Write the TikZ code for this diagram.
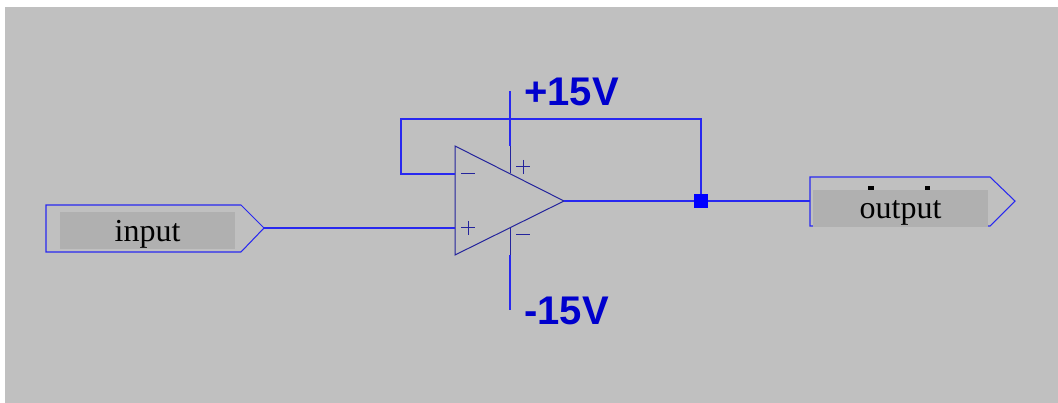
\documentclass[tikz,border=0pt]{standalone}
\usepackage{fontspec}
\setmainfont{Liberation Serif}
\newfontfamily\railfont{Liberation Sans}
\usetikzlibrary{positioning}
\definecolor{sheetgray}{HTML}{C0C0C0}
\definecolor{boxgray}{HTML}{B0B0B0}
\definecolor{wireblue}{HTML}{2828F0}
\definecolor{symbolblue}{HTML}{24249C}
\definecolor{railblue}{HTML}{0000CD}
\tikzset{
  wire/.style={draw=wireblue, line width=1.05pt},
  symbol/.style={draw=symbolblue, line width=1pt},
  portbox/.style={fill=boxgray, text width=175pt, align=center, text height=29pt, text depth=8pt, inner sep=0pt, text=black, font=\fontsize{32}{32}\selectfont},
  raillabel/.style={text=railblue, inner sep=0pt, font=\railfont\bfseries\fontsize{40}{40}\selectfont},
  dotjunction/.style={fill=blue, minimum size=14pt, inner sep=0pt}
}
\begin{document}
\begin{tikzpicture}[x=1pt,y=-1pt]
\useasboundingbox (0,0) rectangle (1058,403);
\fill[white] (0,0) rectangle (1058,403);
\fill[sheetgray] (5,7) rectangle (1058,403);
% Op amp corners and rails
\coordinate (ampA) at (455,146);
\coordinate (ampB) at (455,255);
\coordinate (ampOut) at (564,201);
\coordinate (ampInv) at (455,174);
\coordinate (ampNon) at (455,228);
\coordinate (railTop) at (510,91);
\coordinate (railTopStub) at (510,146);
\coordinate (railTopPin) at (510,173);
\coordinate (railBot) at (510,310);
\coordinate (railBotStub) at (510,255);
\coordinate (railBotPin) at (510,228);
\coordinate (fbA) at (401,174);
\coordinate (fbB) at (401,119);
\coordinate (fbC) at (701,119);
% Input port
\coordinate (inA) at (46,205);
\coordinate (inB) at (241,205);
\coordinate (inTip) at (264,228);
\coordinate (inC) at (241,252);
\coordinate (inD) at (46,252);
\draw[wire] (inA) -- (inB) -- (inTip) -- (inC) -- (inD) -- cycle;
\node[portbox] (inLabel) at (147.5,231) {input};
% Output port
\coordinate (outA) at (810,177);
\coordinate (outB) at (990,177);
\coordinate (outTip) at (1015,201);
\coordinate (outC) at (990,226);
\coordinate (outD) at (810,226);
\coordinate (outMid) at (810,201);
\draw[wire] (outA) -- (outB) -- (outTip) -- (outC) -- (outD) -- cycle;
\fill[black] (868,186) rectangle (874,190);
\fill[black] (925,186) rectangle (930,190);
\node[portbox] (outLabel) at (900.5,208.5) {output};
% Op amp
\draw[symbol] (ampA) -- (ampOut) -- (ampB) -- cycle;
\draw[symbol] (railTopStub) -- (railTopPin);
\draw[symbol] (railBotStub) -- (railBotPin);
\foreach \px/\py in {523/167,468/228} {
  \draw[symbol] (\px-7,\py) -- (\px+7,\py);
  \draw[symbol] (\px,\py-7) -- (\px,\py+7);
}
\foreach \px/\py in {523/235,468/174} \draw[symbol] (\px-7,\py) -- (\px+7,\py);
% Wires
\node[dotjunction] (junc) at (701,201) {};
\draw[wire] (inTip) -- (ampNon);
\draw[wire] (ampOut) -- (junc) -- (outMid);
\draw[wire] (ampInv) -- (fbA) -- (fbB) -- (fbC) -- (junc);
\draw[wire] (railTop) -- (railTopStub);
\draw[wire] (railBot) -- (railBotStub);
% Rail labels
\node[raillabel, anchor=west] (railPlus) at (524,92) {+15V};
\node[raillabel, anchor=west] (railMinus) at (524,311) {-15V};
\end{tikzpicture}
\end{document}
